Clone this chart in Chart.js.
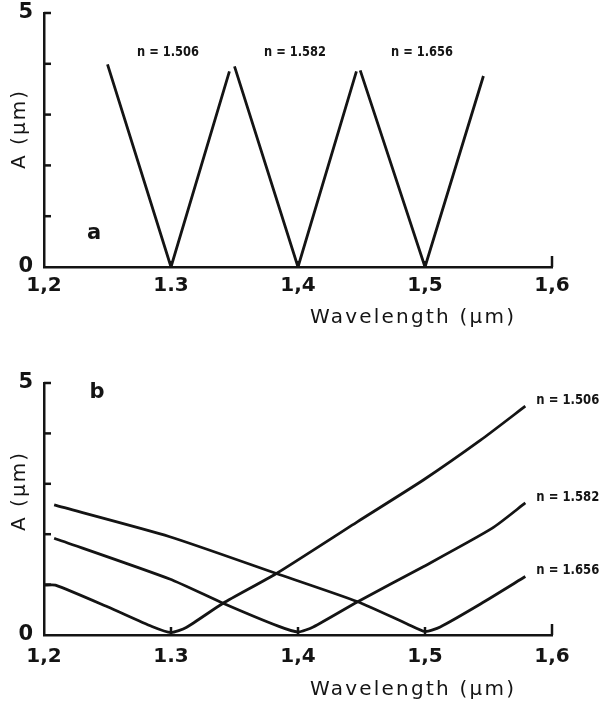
<!DOCTYPE html>
<html>
<head>
<meta charset="utf-8">
<title>A vs wavelength</title>
<script src="https://cdn.jsdelivr.net/npm/chart.js@4.4.1/dist/chart.umd.min.js"></script>
<style>
  html, body { margin: 0; padding: 0; background: #fff; }
  #wrap { position: relative; width: 604px; height: 707px; }
  .panel { position: absolute; left: 0; width: 604px; }
  #panelA { top: 0; height: 330px; }
  #panelB { top: 330px; height: 377px; }
</style>
</head>
<body>
<div id="wrap">
  <div class="panel" id="panelA"><canvas id="chartA" width="604" height="330"></canvas></div>
  <div class="panel" id="panelB"><canvas id="chartB" width="604" height="377"></canvas></div>
</div>
<script>
// axes
const wlTicks = [1.2, 1.3, 1.4, 1.5, 1.6];
const wlTickLabels = ['1,2', '1.3', '1,4', '1,5', '1,6'];
const ampTicks = [0, 1, 2, 3, 4, 5];
const ampTickLabels = ['0', '', '', '', '', '5'];
const seriesNames = ['n = 1.506', 'n = 1.582', 'n = 1.656'];

// panel a - straight V curves
const a1506X = [1.25, 1.3, 1.346];
const a1506Y = [3.99, 0, 3.85];
const a1582X = [1.35, 1.4, 1.446];
const a1582Y = [3.95, 0, 3.85];
const a1656X = [1.449, 1.5, 1.546];
const a1656Y = [3.87, 0, 3.76];

// panel b - curves
const b1506X = [1.2, 1.209, 1.25, 1.285, 1.3, 1.312, 1.341, 1.383, 1.447, 1.499, 1.544, 1.579];
const b1506Y = [0.99, 0.99, 0.56, 0.17, 0.05, 0.15, 0.63, 1.22, 2.25, 3.08, 3.87, 4.54];
const b1582X = [1.208, 1.299, 1.341, 1.385, 1.4, 1.412, 1.447, 1.499, 1.553, 1.579];
const b1582Y = [1.92, 1.11, 0.63, 0.17, 0.06, 0.16, 0.66, 1.36, 2.12, 2.62];
const b1656X = [1.208, 1.299, 1.383, 1.447, 1.486, 1.5, 1.512, 1.544, 1.579];
const b1656Y = [2.58, 1.95, 1.22, 0.66, 0.22, 0.07, 0.16, 0.62, 1.16];

const INK = '#141414';
const FONT = "'DejaVu Sans', 'Liberation Sans', sans-serif";

const toPts = (xs, ys) => xs.map((x, i) => ({x: x, y: ys[i]}));

function line(ctx, x1, y1, x2, y2) {
    ctx.beginPath();
    ctx.moveTo(x1, y1);
    ctx.lineTo(x2, y2);
    ctx.stroke();
}

// left aligned text squeezed or spread to the given width
function fitText(ctx, text, x, y, width) {
    ctx.textAlign = 'left';
    ctx.letterSpacing = '0px';
    const w = ctx.measureText(text).width;
    if (w > width) {
        ctx.save();
        ctx.translate(x, y);
        ctx.scale(width / w, 1);
        ctx.fillText(text, 0, 0);
        ctx.restore();
    } else {
        ctx.letterSpacing = ((width - w) / (text.length - 1)) + 'px';
        ctx.fillText(text, x, y);
        ctx.letterSpacing = '0px';
    }
}

const decoPlugin = {
    id: 'deco',
    afterDraw(chart, args, opts) {
        const ctx = chart.ctx;
        const xs = chart.scales.x, ys = chart.scales.y;
        const area = chart.chartArea;
        ctx.save();
        ctx.strokeStyle = INK;
        ctx.fillStyle = INK;
        ctx.lineWidth = 2.5;

        // inward ticks
        ampTicks.forEach(v => {
            if (v === 0) return;
            const py = ys.getPixelForValue(v);
            line(ctx, area.left, py, area.left + 7, py);
        });
        wlTicks.forEach(v => {
            if (v === wlTicks[0]) return;
            const px = xs.getPixelForValue(v);
            const len = v === wlTicks[wlTicks.length - 1] ? 11 : opts.minorTick;
            line(ctx, px, area.bottom, px, area.bottom - len);
        });

        // panel letter
        ctx.font = 'bold 21px ' + FONT;
        ctx.textAlign = 'center';
        ctx.textBaseline = 'middle';
        ctx.fillText(opts.letter, opts.letterPos[0], opts.letterPos[1]);

        // series names
        ctx.font = 'bold 14px ' + FONT;
        chart.data.datasets.forEach((ds, i) => {
            const pts = ds.data;
            if (opts.namesAt === 'min') {
                let m = pts[0];
                pts.forEach(p => { if (p.y < m.y) m = p; });
                fitText(ctx, seriesNames[i], xs.getPixelForValue(m.x) - 3 - 31, area.top + 39, 62);
            } else {
                const last = pts[pts.length - 1];
                fitText(ctx, seriesNames[i], xs.getPixelForValue(last.x) + 11, ys.getPixelForValue(last.y) - 6, 63);
            }
        });

        // axis titles
        ctx.font = '20px ' + FONT;
        fitText(ctx, 'Wavelength (µm)', 310, opts.xTitleY, 204);
        ctx.translate(20, (area.top + area.bottom) / 2 + opts.yTitleShift);
        ctx.rotate(-Math.PI / 2);
        fitText(ctx, 'A (µm)', -39, 0, 78);
        ctx.restore();
    }
};

function makeChart(id, datasets, geom, deco) {
    return new Chart(document.getElementById(id), {
        type: 'line',
        data: {datasets: datasets},
        plugins: [decoPlugin],
        options: {
            responsive: false,
            animation: false,
            layout: {padding: {left: 0, right: 52, top: geom.top, bottom: 0}},
            elements: {
                line: {borderColor: INK, borderWidth: 2.8, borderJoinStyle: 'miter', fill: false},
                point: {radius: 0, hoverRadius: 0}
            },
            plugins: {
                legend: {display: false},
                tooltip: {enabled: false},
                deco: deco
            },
            scales: {
                x: {
                    type: 'linear',
                    min: 1.2,
                    max: 1.6,
                    afterFit: s => {
                        s.height = geom.xHeight;
                        s.paddingLeft = 0;
                        s.paddingRight = 0;
                    },
                    afterBuildTicks: s => { s.ticks = wlTicks.map(v => ({value: v})); },
                    grid: {display: false, drawTicks: false},
                    border: {display: true, color: INK, width: 2.5},
                    ticks: {
                        autoSkip: false,
                        maxRotation: 0,
                        padding: geom.xPad,
                        color: INK,
                        font: {family: FONT, size: 20, weight: 'bold'},
                        callback: (v, i) => wlTickLabels[i]
                    }
                },
                y: {
                    type: 'linear',
                    min: 0,
                    max: 5,
                    afterFit: s => {
                        s.width = 44;
                        s.paddingTop = 0;
                        s.paddingBottom = 0;
                    },
                    afterBuildTicks: s => { s.ticks = ampTicks.map(v => ({value: v})); },
                    grid: {display: false, drawTicks: false},
                    border: {display: true, color: INK, width: 2.5},
                    ticks: {
                        padding: 11,
                        color: INK,
                        font: {family: FONT, size: 21, weight: 'bold'},
                        callback: (v, i) => ampTickLabels[i]
                    }
                }
            }
        }
    });
}

makeChart('chartA', [
    {data: toPts(a1506X, a1506Y), tension: 0},
    {data: toPts(a1582X, a1582Y), tension: 0},
    {data: toPts(a1656X, a1656Y), tension: 0}
], {top: 13, xHeight: 63, xPad: 7},
   {letter: 'a', letterPos: [94, 234], namesAt: 'min', minorTick: 6, xTitleY: 318, yTitleShift: -10});

makeChart('chartB', [
    {data: toPts(b1506X, b1506Y), tension: 0.2},
    {data: toPts(b1582X, b1582Y), tension: 0.2},
    {data: toPts(b1656X, b1656Y), tension: 0.2}
], {top: 53, xHeight: 72, xPad: 10},
   {letter: 'b', letterPos: [97, 63], namesAt: 'end', minorTick: 8, xTitleY: 360, yTitleShift: -17});
</script>
</body>
</html>
